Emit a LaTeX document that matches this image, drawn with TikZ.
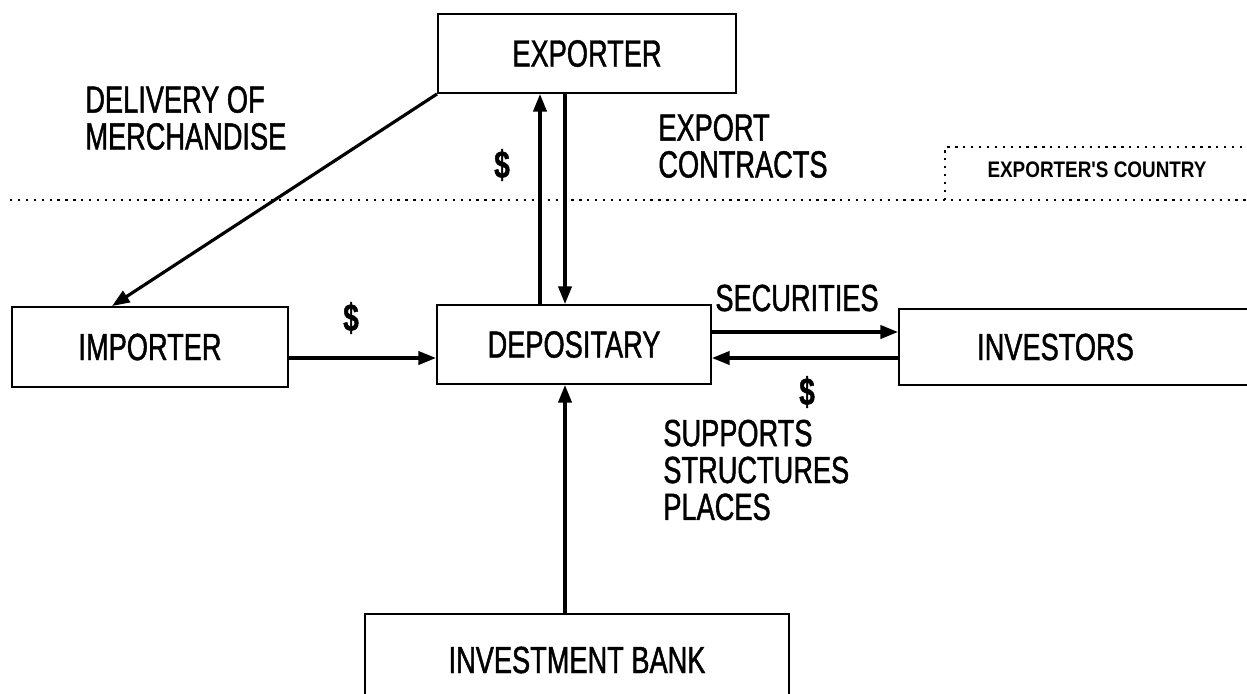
\documentclass[tikz,border=0pt]{standalone}
\usepackage{fontspec}
\setmainfont{Liberation Sans}[FakeStretch=0.72,FakeBold=1.2]
\newfontfamily\countryfont{Liberation Sans}[FakeStretch=0.84]
\usetikzlibrary{arrows.meta}
\begin{document}
\begin{tikzpicture}[x=0.02cm,y=-0.02cm,
  big/.style={font=\fontsize{21.5}{22}\selectfont},
  box/.style={draw, line width=1.1pt, inner sep=0pt, big},
  lbl/.style={big, inner sep=0pt, align=left},
  dollar/.style={font=\bfseries\fontsize{22}{22}\selectfont, inner sep=0pt},
  arr/.style={line width=1.8pt, -{Triangle[length=10pt,width=7.5pt]}},
  dotline/.style={line width=1.3pt, dash pattern=on 1.3pt off 3.2pt}]
\useasboundingbox (0,0) rectangle (1247,693);
\begin{scope}
\clip (0,0) rectangle (1247,693);
% boxes
\node[box, minimum width=298*0.02cm, minimum height=79*0.02cm] (exp) at (587,53.5) {EXPORTER};
\node[box, minimum width=276*0.02cm, minimum height=80*0.02cm] (imp) at (150,347) {IMPORTER};
\node[box, minimum width=274*0.02cm, minimum height=79*0.02cm] (dep) at (574,344.5) {DEPOSITARY};
\node[box, minimum width=363*0.02cm, minimum height=76*0.02cm] (inv) at (1080.5,347) {INVESTORS\hspace*{1cm}};
\node[box, minimum width=424*0.02cm, minimum height=92*0.02cm] (bank) at (577,660) {INVESTMENT BANK};
% country divider
\draw[dotline] (10,200) -- (1260,200);
\draw[dotline] (945,200) -- (945,147) -- (1260,147);
\node[font=\countryfont\bfseries\fontsize{12.8}{13}\selectfont, inner sep=0pt] (ctry) at (1097,170) {EXPORTER'S COUNTRY};
% labels
\node[lbl, anchor=west] (deliv) at (85,118) {DELIVERY OF\\[-1pt]MERCHANDISE};
\node[lbl, anchor=west] (contr) at (658,146) {EXPORT\\[-1pt]CONTRACTS};
\node[dollar] (d1) at (502,165) {\$};
\node[dollar] (d2) at (351,318) {\$};
\node[dollar] (d3) at (807,392) {\$};
\node[lbl] (sec) at (797,298) {SECURITIES};
\node[lbl, anchor=west, font=\fontsize{21.5}{21}\selectfont] (supp) at (663,470) {SUPPORTS\\STRUCTURES\\PLACES};
% connectors
\draw[arr] (exp.south west) -- ([xshift=101*0.02cm]imp.north west);
\draw[arr] (imp.east |- 0,358) -- (dep.west |- 0,358);
\draw[arr] (dep.north -| 540,0) -- (exp.south -| 540,0);
\draw[arr] (exp.south -| 565,0) -- (dep.north -| 565,0);
\draw[arr] (dep.east |- 0,332) -- (inv.west |- 0,332);
\draw[arr] (inv.west |- 0,358) -- (dep.east |- 0,358);
\draw[arr] (bank.north -| 565,0) -- (dep.south -| 565,0);
\end{scope}
\end{tikzpicture}
\end{document}
